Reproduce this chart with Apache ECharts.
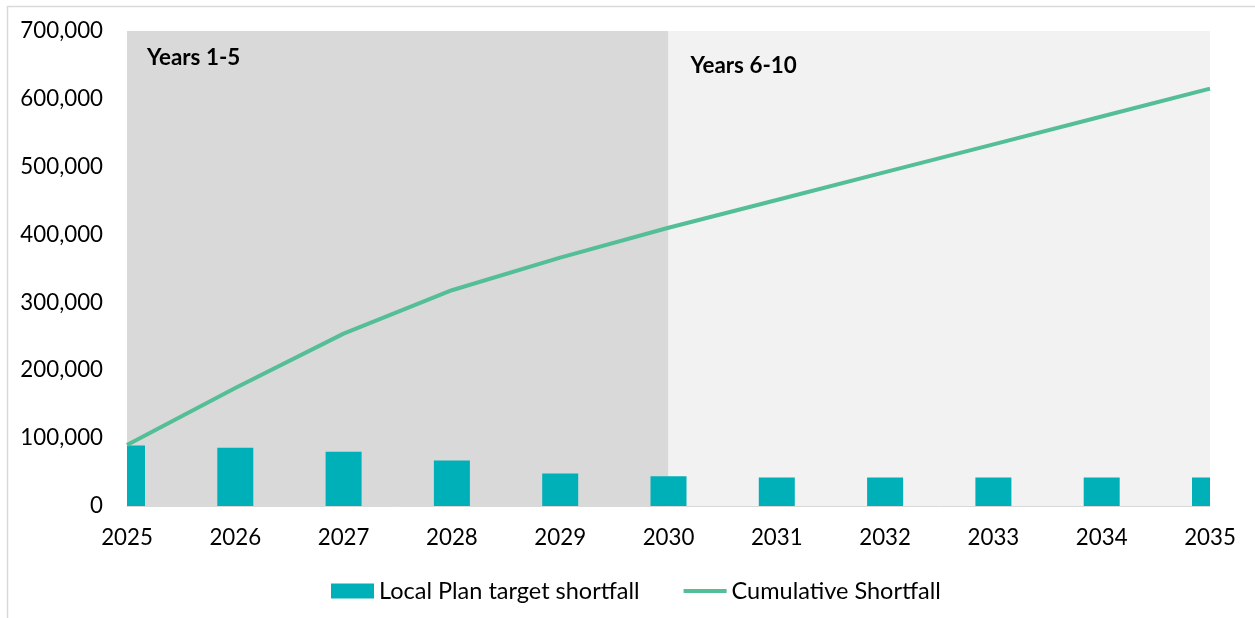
<!DOCTYPE html>
<html>
<head>
<meta charset="utf-8">
<script src="https://cdn.jsdelivr.net/npm/echarts@6/dist/echarts.min.js"></script>
<style>
html,body{margin:0;padding:0;background:#fff;}
#c{width:1255px;height:618px;}
</style>
</head>
<body>
<div id="c"></div>
<script>
const years = ['2025','2026','2027','2028','2029','2030','2031','2032','2033','2034','2035'];
const shortfall = [89000, 86000, 80000, 67000, 48000, 44000, 42000, 42000, 42000, 42000, 42000];
const cumulative = [90000, 174000, 254000, 318000, 366000, 410000, 451000, 492000, 533000, 574000, 615000];
const yTicks = {min: 0, max: 700000, interval: 100000};
const periodA = {from: '2025', to: '2030', label: 'Years 1-5'};
const periodB = {from: '2030', to: '2035', label: 'Years 6-10'};

const FONT = 'Lato';
const BAR_W = 36;
const chart = echarts.init(document.getElementById('c'));
function fmt(v){ return String(v).replace(/\B(?=(\d{3})+(?!\d))/g, ','); }

chart.setOption({
  animation: false,
  backgroundColor: '#fff',
  textStyle: {fontFamily: FONT},
  graphic: [{
    type: 'rect', left: 5, top: 4, silent: true,
    shape: {width: 1300, height: 700},
    style: {fill: 'none', stroke: '#d9d9d9', lineWidth: 1.5}
  }],
  grid: {left: 127, right: 45, top: 31, bottom: 112, containLabel: false},
  legend: {
    left: 331, top: 579, padding: 0,
    itemWidth: 43, itemHeight: 15, itemGap: 44,
    textStyle: {fontFamily: FONT, fontSize: 23.5, color: '#000'},
    data: [
      {name: 'Local Plan target shortfall', icon: 'rect'},
      {name: 'Cumulative Shortfall', icon: 'path://M0,0H45V4H0Z'}
    ]
  },
  xAxis: {
    type: 'category', data: years, boundaryGap: false,
    axisLine: {lineStyle: {color: '#d9d9d9', width: 1}},
    axisTick: {show: false},
    axisLabel: {color: '#000', fontSize: 22.3, fontFamily: FONT, margin: 21},
    splitLine: {show: false}
  },
  yAxis: {
    type: 'value', min: yTicks.min, max: yTicks.max, interval: yTicks.interval,
    axisLine: {show: false}, axisTick: {show: false}, splitLine: {show: false},
    axisLabel: {color: '#000', fontSize: 22.3, fontFamily: FONT, margin: 24, formatter: fmt}
  },
  series: [
    {
      name: 'bg', type: 'line', data: [], z: 0, silent: true,
      markArea: {
        silent: true,
        data: [
          [{xAxis: periodA.from, itemStyle: {color: '#d9d9d9'},
            label: {show: true, formatter: periodA.label, position: 'insideTopLeft', distance: 0, offset: [20, 16],
                    color: '#000', fontWeight: 'bold', fontSize: 22.4, fontFamily: FONT}},
           {xAxis: periodA.to}],
          [{xAxis: periodB.from, itemStyle: {color: '#f2f2f2'},
            label: {show: true, formatter: periodB.label, position: 'insideTopLeft', distance: 0, offset: [22, 24],
                    color: '#000', fontWeight: 'bold', fontSize: 22.4, fontFamily: FONT}},
           {xAxis: periodB.to}]
        ]
      }
    },
    {
      name: 'Local Plan target shortfall', type: 'custom', z: 2,
      data: shortfall.map((v, i) => [i, v]),
      encode: {x: 0, y: 1},
      itemStyle: {color: '#00b0b9'},
      renderItem: function (params, api) {
        const top = api.coord([api.value(0), api.value(1)]);
        const base = api.coord([api.value(0), 0]);
        const rect = {x: top[0] - BAR_W / 2, y: top[1], width: BAR_W, height: base[1] - top[1]};
        const cs = params.coordSys;
        const clipped = echarts.graphic.clipRectByRect(rect, {x: cs.x, y: cs.y, width: cs.width, height: cs.height});
        return clipped && {type: 'rect', shape: clipped, style: api.style()};
      }
    },
    {
      name: 'Cumulative Shortfall', type: 'line', data: cumulative, z: 3,
      symbol: 'none', showSymbol: false,
      lineStyle: {color: '#54be96', width: 4},
      itemStyle: {color: '#54be96'}
    }
  ]
});
</script>
</body>
</html>
